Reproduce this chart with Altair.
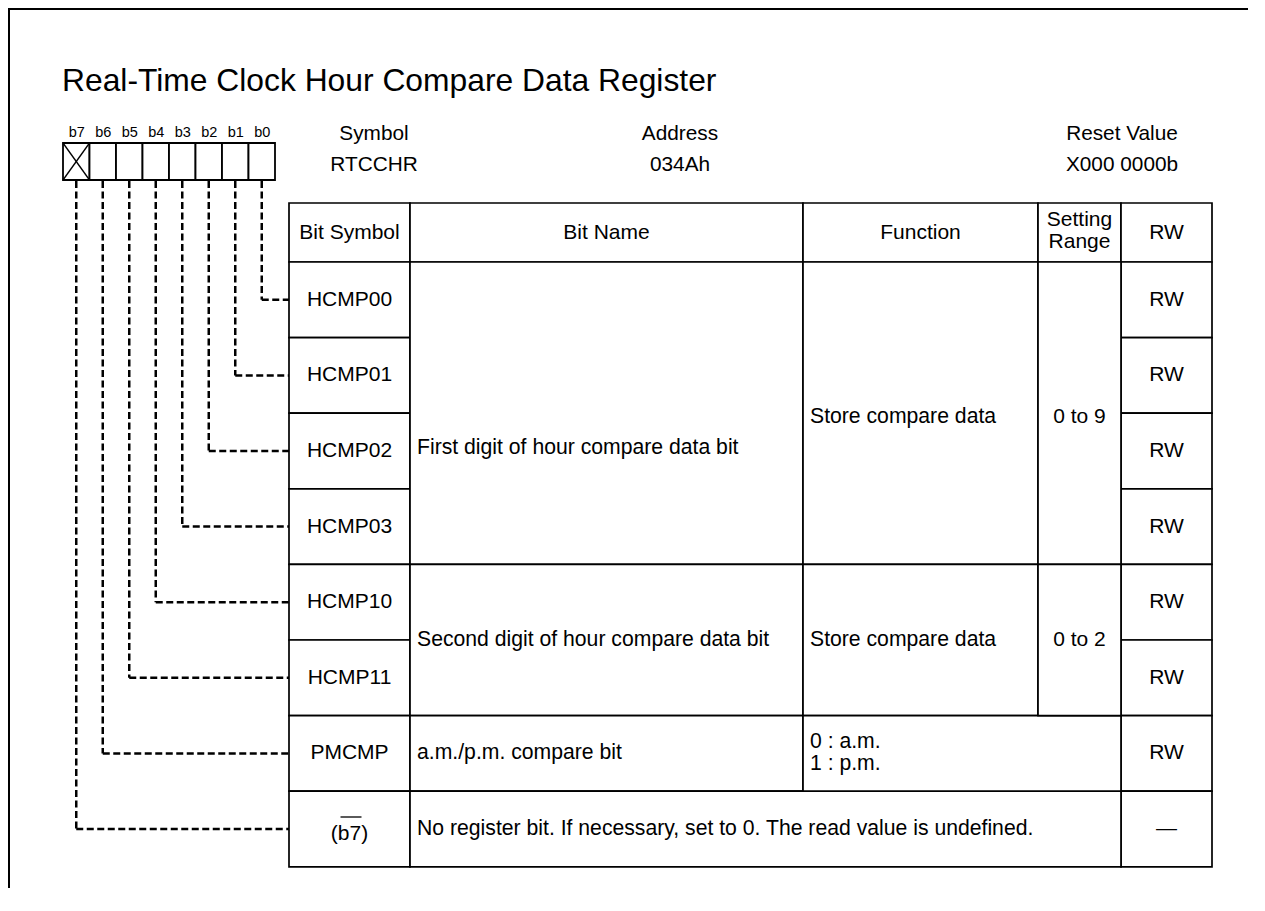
import altair as alt
import pandas as pd

# ---------------- content ----------------
TITLE = "Real-Time Clock Hour Compare Data Register"
BIT_LABELS = ["b7", "b6", "b5", "b4", "b3", "b2", "b1", "b0"]
INFO_HEADS = ["Symbol", "Address", "Reset Value"]
INFO_VALUES = ["RTCCHR", "034Ah", "X000 0000b"]
COL_HEADS = ["Bit Symbol", "Bit Name", "Function", "Setting\nRange", "RW"]
BIT_SYMBOLS = ["HCMP00", "HCMP01", "HCMP02", "HCMP03", "HCMP10", "HCMP11", "PMCMP", "(b7)"]
BIT_NAMES = [
    "First digit of hour compare data bit",
    "Second digit of hour compare data bit",
    "a.m./p.m. compare bit",
    "No register bit. If necessary, set to 0. The read value is undefined.",
]
FUNCTIONS = ["Store compare data", "Store compare data", "0 : a.m.\n1 : p.m."]
RANGES = ["0 to 9", "0 to 2"]
RW = ["RW", "RW", "RW", "RW", "RW", "RW", "RW", "\u2014"]

# ---------------- layout (page pixels) ----------------
W, H = 1240, 880
XS = alt.Scale(domain=[8, 8 + W], nice=False, zero=False)
YS = alt.Scale(domain=[8, 8 + H], nice=False, zero=False, reverse=True)
FONT = "Liberation Sans"
LINE_H = 22

COL_X = [289, 410, 803, 1038, 1121, 1212]
ROW_Y = [203, 262] + [262 + 75.6 * (i + 1) for i in range(8)]
BOX_X0, BOX_W, BOX_Y0, BOX_Y1 = 63, 26.5, 143, 180

NAME_SPANS = [(1, 5, 1, 2, 35), (5, 7, 1, 2, 0), (7, 8, 1, 2, 0), (8, 9, 1, 4, 0)]
FUNC_SPANS = [(1, 5, 2, 3, 4), (5, 7, 2, 3, 0), (7, 8, 2, 4, 0)]
RANGE_SPANS = [(1, 5, 3, 4, 4), (5, 7, 3, 4, 0)]

rects, center_txt, left_txt = [], [], []


def add_cell(r0, r1, c0, c1, text, align="center", dy=0):
    x0, x1, y0, y1 = COL_X[c0], COL_X[c1], ROW_Y[r0], ROW_Y[r1]
    rects.append(dict(x=x0, x2=x1, y=y0, y2=y1))
    nlines = text.count("\n") + 1
    yc = (y0 + y1) / 2 + dy - (nlines - 1) * LINE_H / 2
    if align == "center":
        center_txt.append(dict(x=(x0 + x1) / 2, y=yc, label=text))
    else:
        left_txt.append(dict(x=x0 + 7, y=yc, label=text))


for k, h in enumerate(COL_HEADS):
    add_cell(0, 1, k, k + 1, h, dy=-2 if "\n" in h else 0)
for i, s in enumerate(BIT_SYMBOLS):
    add_cell(i + 1, i + 2, 0, 1, s, dy=5 if s.startswith("(") else 0)
    add_cell(i + 1, i + 2, 4, 5, RW[i])
for (r0, r1, c0, c1, dy), t in zip(NAME_SPANS, BIT_NAMES):
    add_cell(r0, r1, c0, c1, t, "left", dy)
for (r0, r1, c0, c1, dy), t in zip(FUNC_SPANS, FUNCTIONS):
    add_cell(r0, r1, c0, c1, t, "left", dy)
for (r0, r1, c0, c1, dy), t in zip(RANGE_SPANS, RANGES):
    add_cell(r0, r1, c0, c1, t, "center", dy)

# bit boxes
box_rects, bit_txt, dashes = [], [], []
for i, b in enumerate(BIT_LABELS):
    x0 = BOX_X0 + i * BOX_W
    box_rects.append(dict(x=x0, x2=x0 + BOX_W, y=BOX_Y0, y2=BOX_Y1))
    xc = x0 + BOX_W / 2
    bit_txt.append(dict(x=xc + 0.5, y=133, label=b))
    # bit i (b7..b0) connects to table row (8 - i)
    row = len(BIT_LABELS) - i
    yr = (ROW_Y[row] + ROW_Y[row + 1]) / 2
    dashes.append(dict(x=xc, x2=xc, y=BOX_Y1 + 1, y2=yr))
    dashes.append(dict(x=xc, x2=COL_X[0], y=yr, y2=yr))

# cross in reserved bit b7 and overline over "b7" in the symbol cell
solid_lines = [
    dict(x=BOX_X0, x2=BOX_X0 + BOX_W, y=BOX_Y0, y2=BOX_Y1),
    dict(x=BOX_X0 + BOX_W, x2=BOX_X0, y=BOX_Y0, y2=BOX_Y1),
]
ycb7 = (ROW_Y[8] + ROW_Y[9]) / 2
xcb7 = (COL_X[0] + COL_X[1]) / 2
thin_lines = [dict(x=xcb7 - 9, x2=xcb7 + 12, y=ycb7 - 12, y2=ycb7 - 12)]

frame = [dict(x=8.5, x2=8.5, y=8, y2=8 + H), dict(x=8, x2=8 + W, y=8.5, y2=8.5)]

info_txt = []
for xh, h, v in zip([374, 680, 1122], INFO_HEADS, INFO_VALUES):
    info_txt.append(dict(x=xh, y=134, label=h))
    info_txt.append(dict(x=xh, y=165, label=v))

title_df = pd.DataFrame([dict(x=62, y=81, label=TITLE)])


def enc_seg(df, **mk):
    return alt.Chart(pd.DataFrame(df)).mark_rule(**mk).encode(
        x=alt.X("x:Q", scale=XS, axis=None),
        x2="x2:Q",
        y=alt.Y("y:Q", scale=YS, axis=None),
        y2="y2:Q",
    )


def enc_rect(df, **mk):
    return alt.Chart(pd.DataFrame(df)).mark_rect(**mk).encode(
        x=alt.X("x:Q", scale=XS, axis=None),
        x2="x2:Q",
        y=alt.Y("y:Q", scale=YS, axis=None),
        y2="y2:Q",
    )


def enc_text(df, **mk):
    return alt.Chart(pd.DataFrame(df)).mark_text(
        font=FONT, color="black", baseline="middle", lineBreak="\n", **mk
    ).encode(
        x=alt.X("x:Q", scale=XS, axis=None),
        y=alt.Y("y:Q", scale=YS, axis=None),
        text="label:N",
    )


layers = [
    enc_seg(frame, color="black", strokeWidth=3),
    enc_seg(dashes, color="black", strokeWidth=2.5, strokeDash=[7, 3.5]),
    enc_rect(rects, fill="white", stroke="black", strokeWidth=1.7),
    enc_rect(box_rects, fill="white", stroke="black", strokeWidth=1.8),
    enc_seg(solid_lines, color="black", strokeWidth=1.3),
    enc_seg(thin_lines, color="black", strokeWidth=1.3),
    enc_text(title_df, align="left", fontSize=31.8),
    enc_text(info_txt, align="center", fontSize=20.8),
    enc_text(bit_txt, align="center", fontSize=14.5),
    enc_text(center_txt, align="center", fontSize=21, lineHeight=LINE_H),
    enc_text(left_txt, align="left", fontSize=21.2, lineHeight=LINE_H),
]

chart = (
    alt.layer(*layers)
    .properties(width=W, height=H, autosize=alt.AutoSizeParams(type="none"), padding=0)
    .configure_view(stroke=None)
    .configure(background="white")
)

chart.save("out.html", embed_options={"renderer": "svg", "actions": False})
